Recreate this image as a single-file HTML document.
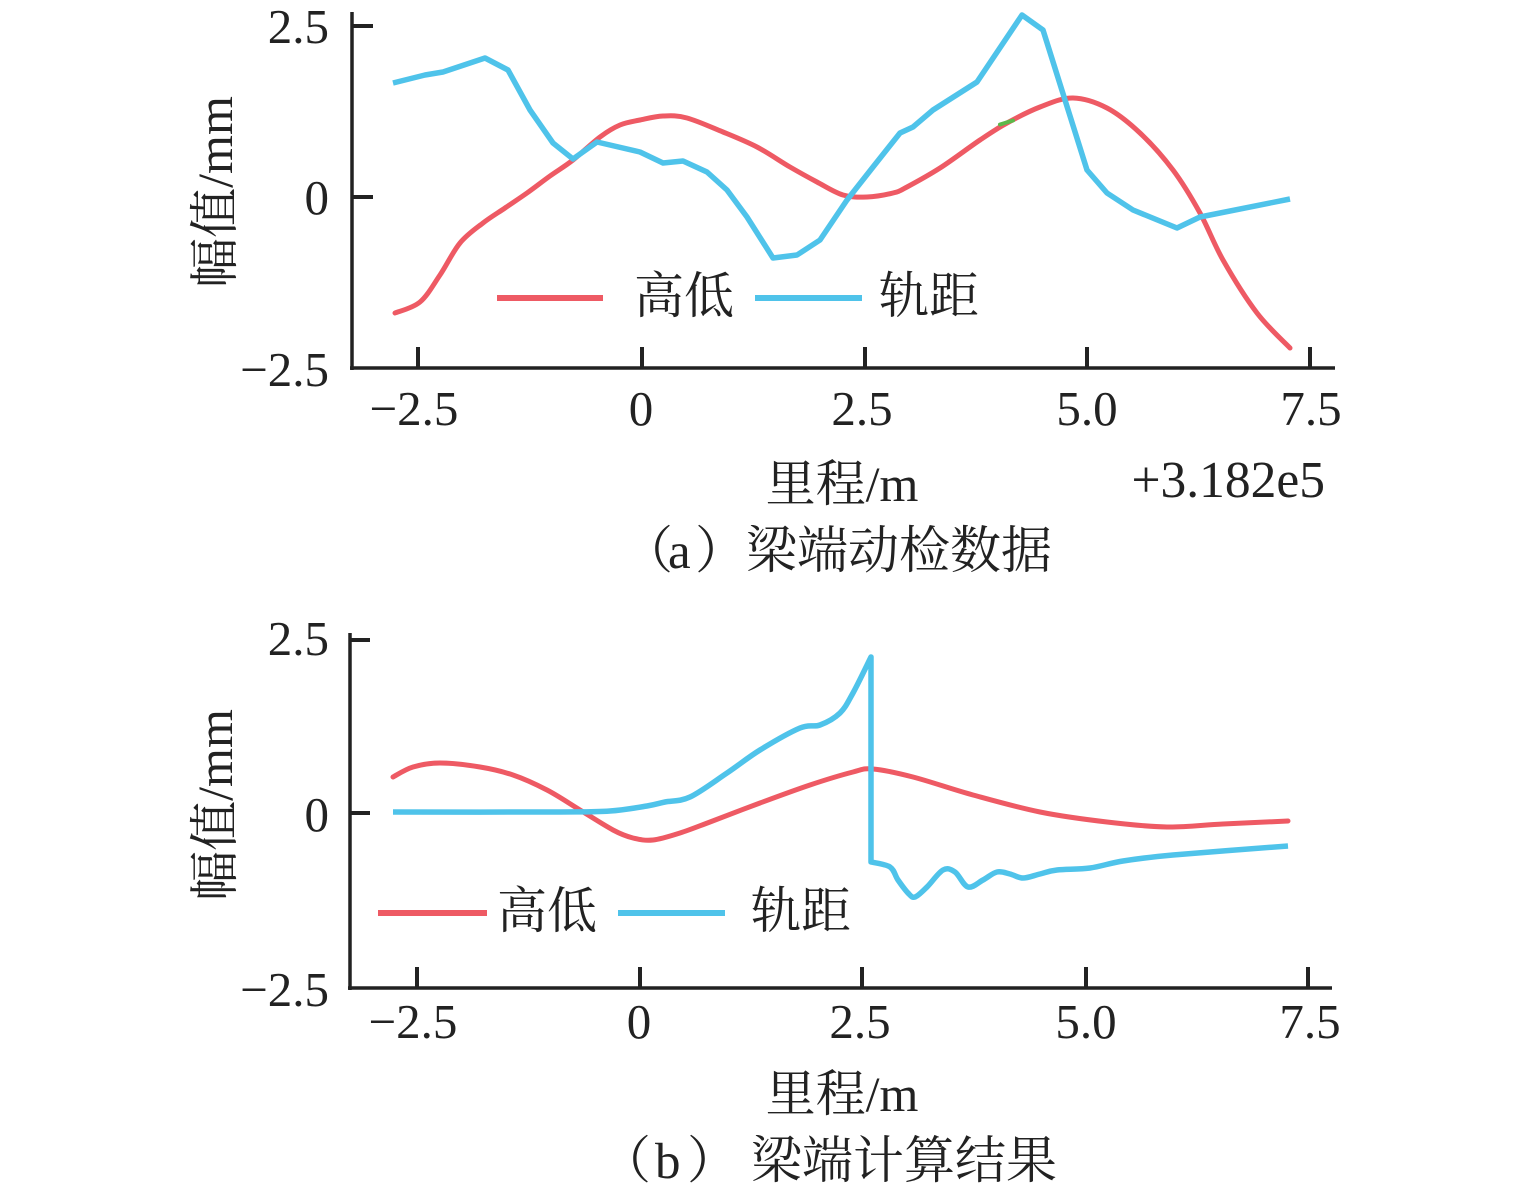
<!DOCTYPE html>
<html>
<head>
<meta charset="utf-8">
<style>
  html,body{margin:0;padding:0;background:#fff;}
  svg{display:block;}
  .tk{font-family:"Liberation Serif",serif;font-size:49px;fill:#222;}
  .cj{font-family:"Liberation Serif","Noto Serif CJK SC",serif;font-size:50px;fill:#222;}
  .ax{stroke:#222;stroke-width:3.5;fill:none;stroke-linecap:butt;}
  .tkl{stroke:#222;stroke-width:4;}
  .red{stroke:#ee5a64;stroke-width:5;fill:none;stroke-linejoin:round;stroke-linecap:round;}
  .blue{stroke:#4fc3ea;stroke-width:5.5;fill:none;stroke-linejoin:round;stroke-linecap:butt;}
</style>
</head>
<body>
<svg id="chart" width="1535" height="1194" viewBox="0 0 1535 1194" xmlns="http://www.w3.org/2000/svg">
  <rect width="1535" height="1194" fill="#fff"/>

  <!-- ================= TOP CHART ================= -->
  <polyline id="r1" class="red" points="395,313 420,302 440,275 460,243 483,223 505,208 527,193 550,176 573,160 600,137 620,125 640,120 663,116 687,118 723,132 757,147 790,167 817,182 843,195 867,197 893,193 907,187 940,168 980,140 1007,123 1040,107 1073,98 1107,108 1140,133 1173,170 1200,213 1223,260 1257,313 1290,348"/>
  <line x1="1000" y1="124.5" x2="1013" y2="120.5" stroke="#5cb84a" stroke-width="4" stroke-linecap="round"/>
  <polyline class="blue" points="393,83 425,75 443,72 485,58 508,70 530,110 553,143 573,159 597,142 640,152 663,163 683,161 707,172 727,190 747,217 773,258 797,255 820,240 847,200 873,167 900,133 913,127 933,110 977,82 1022,15 1043,30 1087,170 1107,193 1133,210 1177,228 1200,217 1290,199"/>

  <line class="ax" x1="352" y1="12" x2="352" y2="370"/>
  <line class="ax" x1="350" y1="368" x2="1335" y2="368"/>
  <line class="tkl" x1="352" y1="26" x2="373" y2="26"/>
  <line class="tkl" x1="352" y1="197" x2="373" y2="197"/>
  <line class="tkl" x1="418" y1="347" x2="418" y2="368"/>
  <line class="tkl" x1="642" y1="347" x2="642" y2="368"/>
  <line class="tkl" x1="865" y1="347" x2="865" y2="368"/>
  <line class="tkl" x1="1087" y1="347" x2="1087" y2="368"/>
  <line class="tkl" x1="1310" y1="347" x2="1310" y2="368"/>

  <text class="tk" x="329" y="43" text-anchor="end">2.5</text>
  <text class="tk" x="329" y="214" text-anchor="end">0</text>
  <text class="tk" x="329" y="386" text-anchor="end">−2.5</text>
  <text class="tk" x="414" y="425" text-anchor="middle">−2.5</text>
  <text class="tk" x="641" y="425" text-anchor="middle">0</text>
  <text class="tk" x="862" y="425" text-anchor="middle">2.5</text>
  <text class="tk" x="1087" y="425" text-anchor="middle">5.0</text>
  <text class="tk" x="1311" y="425" text-anchor="middle">7.5</text>

  <text class="cj" transform="translate(232,192) rotate(-90)" text-anchor="middle">幅值/mm</text>
  <text class="cj" x="842" y="501" text-anchor="middle">里程/m</text>
  <text class="tk" x="1325" y="497" text-anchor="end" style="font-size:51.5px">+3.182e5</text>

  <line x1="497" y1="298" x2="603" y2="298" stroke="#ee5a64" stroke-width="6"/>
  <text class="cj" x="634" y="313">高低</text>
  <line x1="755" y1="298" x2="862" y2="298" stroke="#4fc3ea" stroke-width="6"/>
  <text class="cj" x="879" y="313">轨距</text>

  <text class="cj" y="568" style="font-size:51px"><tspan x="622">（</tspan><tspan x="668">a</tspan><tspan x="695">）</tspan><tspan x="746">梁端动检数据</tspan></text>

  <!-- ================= BOTTOM CHART ================= -->
  <polyline id="r2" class="red" points="393,777 413,767 440,763 480,767 513,775 547,790 580,810 613,830 633,838 653,840 680,833 710,822 760,803 810,785 853,772 873,769 913,777 973,795 1040,812 1107,822 1167,827 1223,824 1288,821"/>
  <polyline id="b2" class="blue" points="393,812 560,812 610,811 647,806 665,802 690,797 727,773 760,750 800,728 820,725 840,713 853,693 871,657 871,862 890,867 898,880 908,893 915,897 927,887 943,870 955,872 968,887 983,880 997,872 1010,874 1023,878 1040,874 1057,870 1090,868 1123,861 1173,855 1288,846"/>

  <line class="ax" x1="350" y1="633" x2="350" y2="990"/>
  <line class="ax" x1="348" y1="988" x2="1332" y2="988"/>
  <line class="tkl" x1="350" y1="640" x2="370" y2="640"/>
  <line class="tkl" x1="350" y1="813" x2="370" y2="813"/>
  <line class="tkl" x1="417" y1="967" x2="417" y2="988"/>
  <line class="tkl" x1="640" y1="967" x2="640" y2="988"/>
  <line class="tkl" x1="862" y1="967" x2="862" y2="988"/>
  <line class="tkl" x1="1086" y1="967" x2="1086" y2="988"/>
  <line class="tkl" x1="1308" y1="967" x2="1308" y2="988"/>

  <text class="tk" x="329" y="655" text-anchor="end">2.5</text>
  <text class="tk" x="329" y="831" text-anchor="end">0</text>
  <text class="tk" x="329" y="1006" text-anchor="end">−2.5</text>
  <text class="tk" x="413" y="1038" text-anchor="middle">−2.5</text>
  <text class="tk" x="639" y="1038" text-anchor="middle">0</text>
  <text class="tk" x="860" y="1038" text-anchor="middle">2.5</text>
  <text class="tk" x="1086" y="1038" text-anchor="middle">5.0</text>
  <text class="tk" x="1310" y="1038" text-anchor="middle">7.5</text>

  <text class="cj" transform="translate(232,805) rotate(-90)" text-anchor="middle">幅值/mm</text>
  <text class="cj" x="842" y="1111" text-anchor="middle">里程/m</text>

  <line x1="378" y1="913" x2="487" y2="913" stroke="#ee5a64" stroke-width="6"/>
  <text class="cj" x="497" y="928">高低</text>
  <line x1="618" y1="913" x2="725" y2="913" stroke="#4fc3ea" stroke-width="6"/>
  <text class="cj" x="751" y="928">轨距</text>

  <text class="cj" y="1178" style="font-size:51px"><tspan x="600">（</tspan><tspan x="655">b</tspan><tspan x="687">）</tspan><tspan x="751">梁端计算结果</tspan></text>
</svg>
<script>
(function(){
  var NS="http://www.w3.org/2000/svg";
  function parse(s){return s.trim().split(/\s+/).map(function(p){var a=p.split(",");return [parseFloat(a[0]),parseFloat(a[1])];});}
  function cr(pts,start){
    var d=(start||"M")+pts[0][0]+","+pts[0][1];
    var n=pts.length;
    for(var i=0;i<n-1;i++){
      var p0=pts[Math.max(i-1,0)],p1=pts[i],p2=pts[i+1],p3=pts[Math.min(i+2,n-1)];
      var c1x=p1[0]+(p2[0]-p0[0])/6,c1y=p1[1]+(p2[1]-p0[1])/6;
      var c2x=p2[0]-(p3[0]-p1[0])/6,c2y=p2[1]-(p3[1]-p1[1])/6;
      d+=" C"+c1x.toFixed(1)+","+c1y.toFixed(1)+" "+c2x.toFixed(1)+","+c2y.toFixed(1)+" "+p2[0]+","+p2[1];
    }
    return d;
  }
  function replace(id,builder){
    var el=document.getElementById(id); if(!el) return;
    var pts=parse(el.getAttribute("points"));
    var p=document.createElementNS(NS,"path");
    p.setAttribute("class",el.getAttribute("class"));
    p.setAttribute("d",builder(pts));
    el.parentNode.replaceChild(p,el);
  }
  try{
    replace("r1",function(p){return cr(p);});
    replace("r2",function(p){return cr(p);});
    replace("b2",function(p){
      var a=p.slice(0,13), b=p.slice(13);
      return cr(a)+" "+cr(b,"L");
    });
  }catch(e){}
})();
</script>
</body>
</html>
